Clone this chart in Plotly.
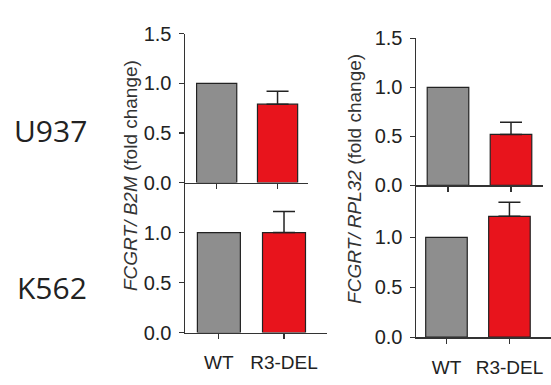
import plotly.graph_objects as go

W, H = 551, 385

categories = ["WT", "R3-DEL"]
u937_b2m = [1.0, 0.79]
u937_b2m_err = [0.0, 0.13]
k562_b2m = [1.0, 1.0]
k562_b2m_err = [0.0, 0.21]
u937_rpl32 = [1.0, 0.52]
u937_rpl32_err = [0.0, 0.125]
k562_rpl32 = [1.0, 1.21]
k562_rpl32_err = [0.0, 0.14]
yticks_top = [0.0, 0.5, 1.0, 1.5]
yticks_bottom = [0.0, 0.5, 1.0]
bar_colors = ["#8e8e8e", "#e8141c"]

def fx(px):
    return px / W

def fy(py):
    return 1 - py / H

fig = go.Figure()

panels = [
    (u937_b2m, u937_b2m_err, "x", "y", (185, 308), (24, 182), [-0.52, 1.5], yticks_top, False),
    (k562_b2m, k562_b2m_err, "x2", "y2", (185, 327), (182, 341), [-0.52, 1.66], yticks_bottom, True),
    (u937_rpl32, u937_rpl32_err, "x3", "y3", (416, 543), (29, 185), [-0.508, 1.508], yticks_top, False),
    (k562_rpl32, k562_rpl32_err, "x4", "y4", (416, 551), (187, 346), [-0.484, 1.66], yticks_bottom, True),
]

tick_font = dict(family="Liberation Sans, Arial, sans-serif", size=20, color="#222")
layout = {}
for vals, errs, xa, ya, xd, yd, xr, yt, showx in panels:
    for i in range(2):
        err = dict(type="data", array=[errs[i]], arrayminus=[0], symmetric=False,
                   color="#222", thickness=1.5, width=11, visible=errs[i] > 0)
        fig.add_trace(go.Bar(
            x=[categories[i]], y=[vals[i]], xaxis=xa, yaxis=ya,
            marker=dict(color=bar_colors[i], line=dict(color="#222", width=1.2)),
            width=0.66, error_y=err, showlegend=False, hoverinfo="skip",
        ))
    xkey = "xaxis" + xa[1:]
    ykey = "yaxis" + ya[1:]
    layout[xkey] = dict(
        domain=[fx(xd[0]), fx(xd[1])], anchor=ya, range=xr,
        type="category", categoryorder="array", categoryarray=categories,
        showline=True, linecolor="#333", linewidth=1.5,
        ticks="outside", ticklen=5, tickcolor="#333", tickwidth=1.2,
        showticklabels=showx, tickfont=dict(tick_font, size=19), ticklabelstandoff=7,
        showgrid=False, zeroline=False, fixedrange=True,
    )
    layout[ykey] = dict(
        domain=[fy(yd[1]), fy(yd[0])], anchor=xa, range=[0, 1.5],
        tickmode="array", tickvals=yt, ticktext=["%.1f" % v for v in yt],
        showline=True, linecolor="#333", linewidth=1.5,
        ticks="outside", ticklen=5, tickcolor="#333", tickwidth=1.2,
        tickfont=tick_font, ticklabelstandoff=3,
        showgrid=False, zeroline=False, fixedrange=True,
    )

title_font = dict(family="Liberation Sans, Arial, sans-serif", size=19, color="#333")
row_font = dict(family="Open Sans, Noto Sans, sans-serif", size=30, color="#222")

annotations = [
    dict(text="<i>FCGRT/ B2M</i> (fold change)", x=fx(130), y=fy(175), textangle=-90,
         font=title_font, showarrow=False, xref="paper", yref="paper",
         xanchor="center", yanchor="middle"),
    dict(text="<i>FCGRT/ RPL32</i> (fold change)", x=fx(355), y=fy(178), textangle=-90,
         font=title_font, showarrow=False, xref="paper", yref="paper",
         xanchor="center", yanchor="middle"),
    dict(text="U937", x=fx(50), y=fy(127), font=row_font, showarrow=False,
         xref="paper", yref="paper", xanchor="center", yanchor="middle"),
    dict(text="K562", x=fx(52), y=fy(293), font=row_font, showarrow=False,
         xref="paper", yref="paper", xanchor="center", yanchor="middle"),
]

fig.update_layout(
    width=W, height=H, margin=dict(l=0, r=0, t=0, b=0),
    paper_bgcolor="white", plot_bgcolor="white",
    barmode="overlay", annotations=annotations, hovermode=False, **layout,
)

fig.write_html("out.html", config={"displayModeBar": False, "staticPlot": True},
               post_script="document.body.style.margin='0';document.body.style.overflow='hidden';")
